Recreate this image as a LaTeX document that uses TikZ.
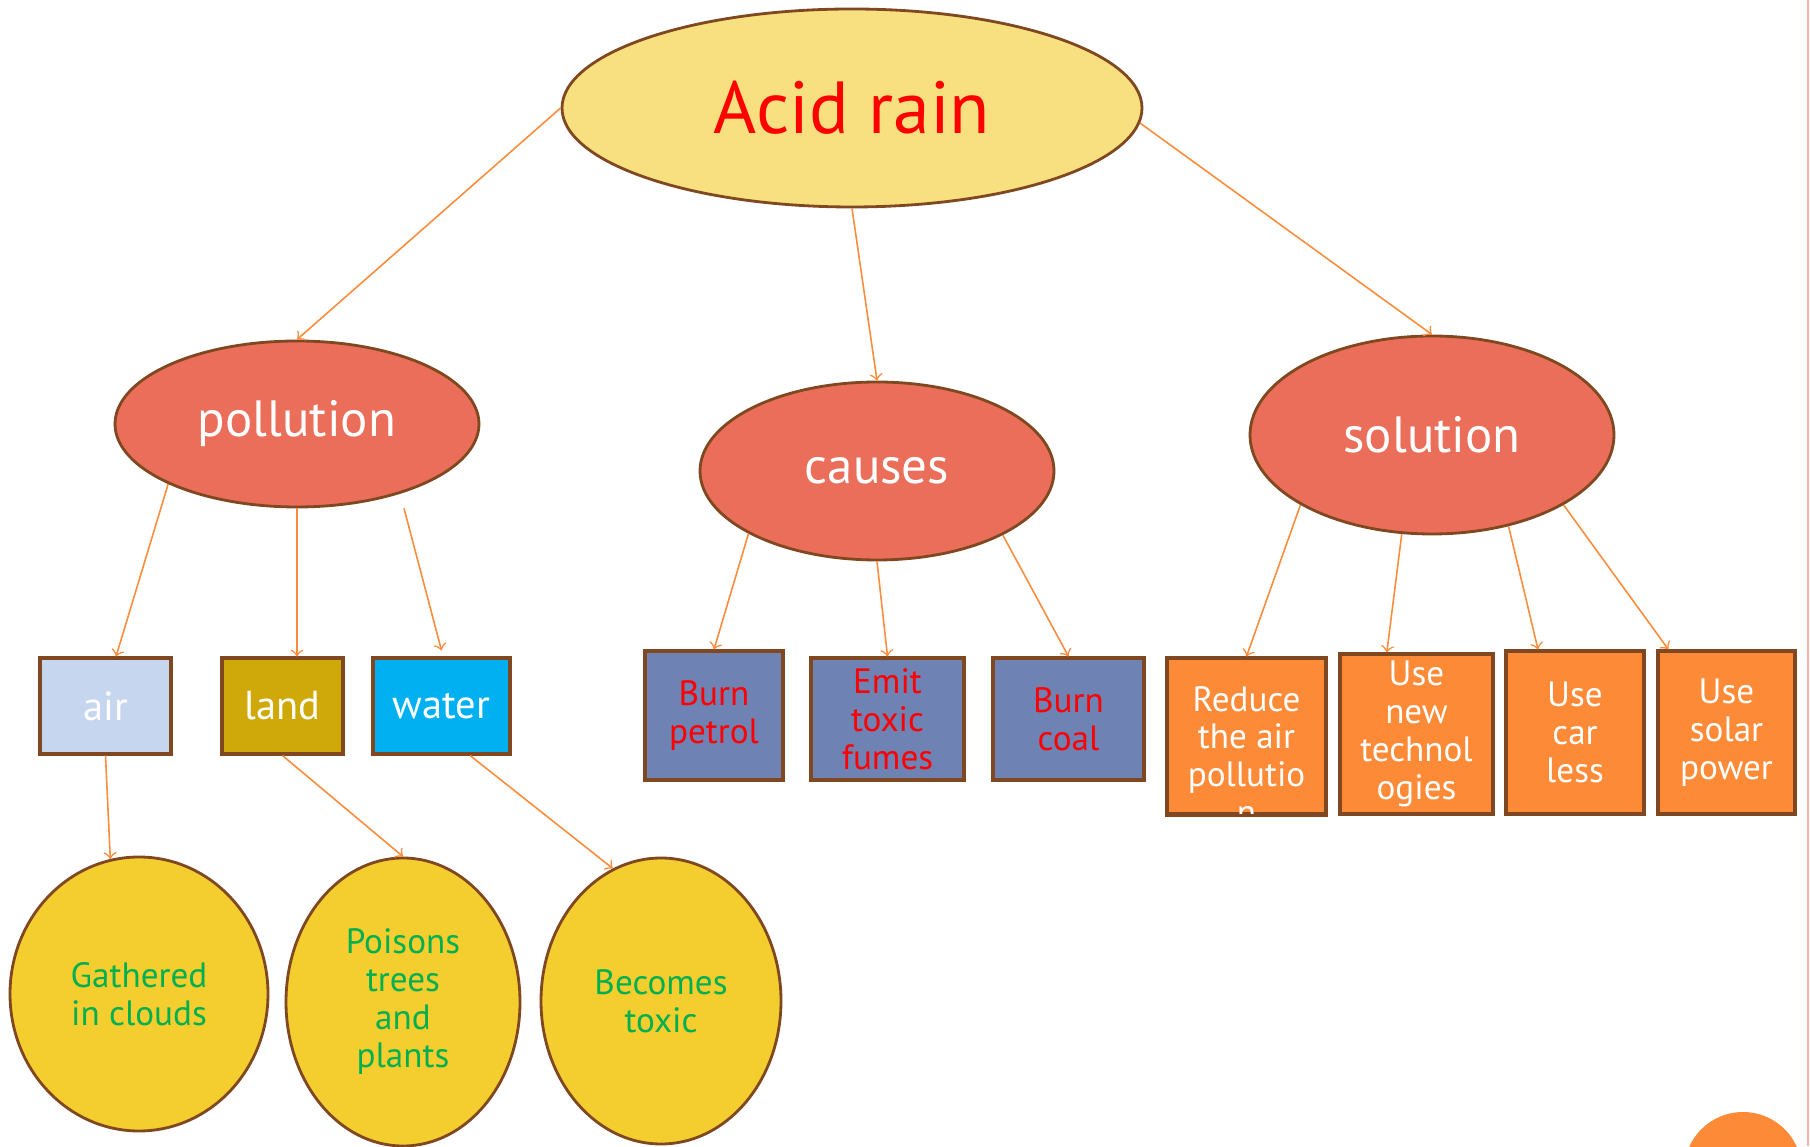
\documentclass[tikz,border=0pt]{standalone}
\usepackage{fontspec}
\setmainfont{PT Sans}
\usepackage{xcolor}
\usepackage{tikz}
\usetikzlibrary{shapes.geometric}

\definecolor{rimbrown}{RGB}{128,72,32}
\definecolor{topyellow}{RGB}{248,224,128}
\definecolor{midred}{RGB}{234,110,90}
\definecolor{airblue}{RGB}{198,214,238}
\definecolor{landgold}{RGB}{207,168,10}
\definecolor{waterblue}{RGB}{0,176,240}
\definecolor{causeblue}{RGB}{110,130,180}
\definecolor{fixorange}{RGB}{253,138,55}
\definecolor{effectyellow}{RGB}{244,205,46}
\definecolor{effectgreen}{RGB}{0,176,80}
\definecolor{linkorange}{RGB}{250,140,60}
\definecolor{edgepink}{RGB}{240,180,170}

\tikzset{
  topnode/.style={ellipse, draw=rimbrown, line width=0.8pt, fill=topyellow,
    text=red, inner sep=0pt, font=\fontsize{21}{25}\selectfont},
  midnode/.style={ellipse, draw=rimbrown, line width=0.8pt, fill=midred,
    text=white, inner sep=0pt, font=\fontsize{14.5}{18}\selectfont},
  leafbox/.style={rectangle, draw=rimbrown, line width=0.9pt, inner sep=0pt,
    align=center, font=\fontsize{10}{10.8}\selectfont},
  causebox/.style={leafbox, fill=causeblue, text=red},
  fixbox/.style={leafbox, fill=fixorange, text=white},
  effectnode/.style={ellipse, draw=rimbrown, line width=0.8pt, fill=effectyellow,
    text=effectgreen, inner sep=0pt, align=center, font=\fontsize{10}{10.8}\selectfont},
  link/.style={->, draw=linkorange, line width=0.45pt}
}

\begin{document}
\begin{tikzpicture}
    \useasboundingbox (0,0) rectangle (18.10,11.46);
    \clip (0,0) rectangle (18.10,11.46);
    % page edge and corner mark
    \draw[edgepink, line width=0.6pt] (18.08,0) -- (18.08,11.46);
    \fill[fixorange] (17.43,-0.25) circle (0.59);

    % main topic and branches
    \node[topnode, minimum width=5.80cm, minimum height=1.98cm] (acid) at (8.52,10.38) {Acid rain};
    \node[midnode, minimum width=3.64cm, minimum height=1.66cm] (pollution) at (2.97,7.22) {pollution};
    \node[midnode, minimum width=3.54cm, minimum height=1.78cm] (causes) at (8.77,6.75) {causes};
    \node[midnode, minimum width=3.64cm, minimum height=1.98cm] (solution) at (14.32,7.11) {solution};

    % pollution boxes
    \node[leafbox, fill=airblue, text=white, minimum width=1.31cm, minimum height=0.96cm,
      font=\fontsize{11.5}{13}\selectfont] (air) at (1.055,4.40) {air};
    \node[leafbox, fill=landgold, text=white, minimum width=1.21cm, minimum height=0.96cm,
      font=\fontsize{11.5}{13}\selectfont] (land) at (2.825,4.40) {land};
    \node[leafbox, fill=waterblue, text=white, minimum width=1.37cm, minimum height=0.96cm,
      font=\fontsize{11.5}{13}\selectfont] (water) at (4.415,4.40) {water};

    % causes boxes
    \node[causebox, minimum width=1.38cm, minimum height=1.29cm] (petrol) at (7.14,4.305) {Burn\\petrol};
    \node[causebox, minimum width=1.53cm, minimum height=1.22cm] (fumes) at (8.875,4.27) {Emit\\toxic\\fumes};
    \node[causebox, minimum width=1.51cm, minimum height=1.22cm] (coal) at (10.685,4.27) {Burn\\coal};

    % solution boxes
    \node[fixbox, minimum width=1.59cm, minimum height=1.56cm] (reduce) at (12.465,4.10) {};
    \node[fixbox, draw=none, fill=none, yshift=-0.195cm] (reducetext) at (reduce) {Reduce\\the air\\pollutio\\n};
    \draw[rimbrown, line width=0.9pt] (reduce.south west) -- (reduce.south east);
    \node[fixbox, minimum width=1.53cm, minimum height=1.60cm] (tech) at (14.165,4.12) {Use\\new\\technol\\ogies};
    \node[fixbox, minimum width=1.38cm, minimum height=1.63cm] (car) at (15.75,4.135) {Use\\car\\less};
    \node[fixbox, minimum width=1.37cm, minimum height=1.63cm] (solar) at (17.265,4.135) {Use\\solar\\power};

    % effects
    \node[effectnode, minimum width=2.58cm, minimum height=2.74cm] (clouds) at (1.39,1.52) {Gathered\\in clouds};
    \node[effectnode, minimum width=2.34cm, minimum height=2.88cm] (poisons) at (4.03,1.44) {Poisons\\trees\\and\\plants};
    \node[effectnode, minimum width=2.40cm, minimum height=2.86cm] (toxic) at (6.61,1.45) {Becomes\\toxic};

    % connectors
    \draw[link] (acid.west) -- (pollution.north);
    \draw[link] (acid.south) -- (causes.north);
    \draw[link] (acid.-3) -- (solution.north);

    \draw[link] (pollution.205) -- (air.78);
    \draw[link] (pollution.south) -- (pollution.south |- land.north);
    \draw[link] ([xshift=1.07cm]pollution.south) -- ([yshift=0.06cm]water.north);

    \draw[link] (causes.206) -- (petrol.north);
    \draw[link] (causes.south) -- (fumes.north);
    \draw[link] (causes.-27) -- (coal.north);

    \draw[link] (solution.208) -- (reduce.north);
    \draw[link] (solution.253) -- (tech.110);
    \draw[link] (solution.-50) -- (car.114);
    \draw[link] (solution.-28) -- (solar.125);

    \draw[link] (air.south) -- (clouds.102);
    \draw[link] (land.south) -- (poisons.north);
    \draw[link] (water.-60) -- (toxic.110);
\end{tikzpicture}
\end{document}
